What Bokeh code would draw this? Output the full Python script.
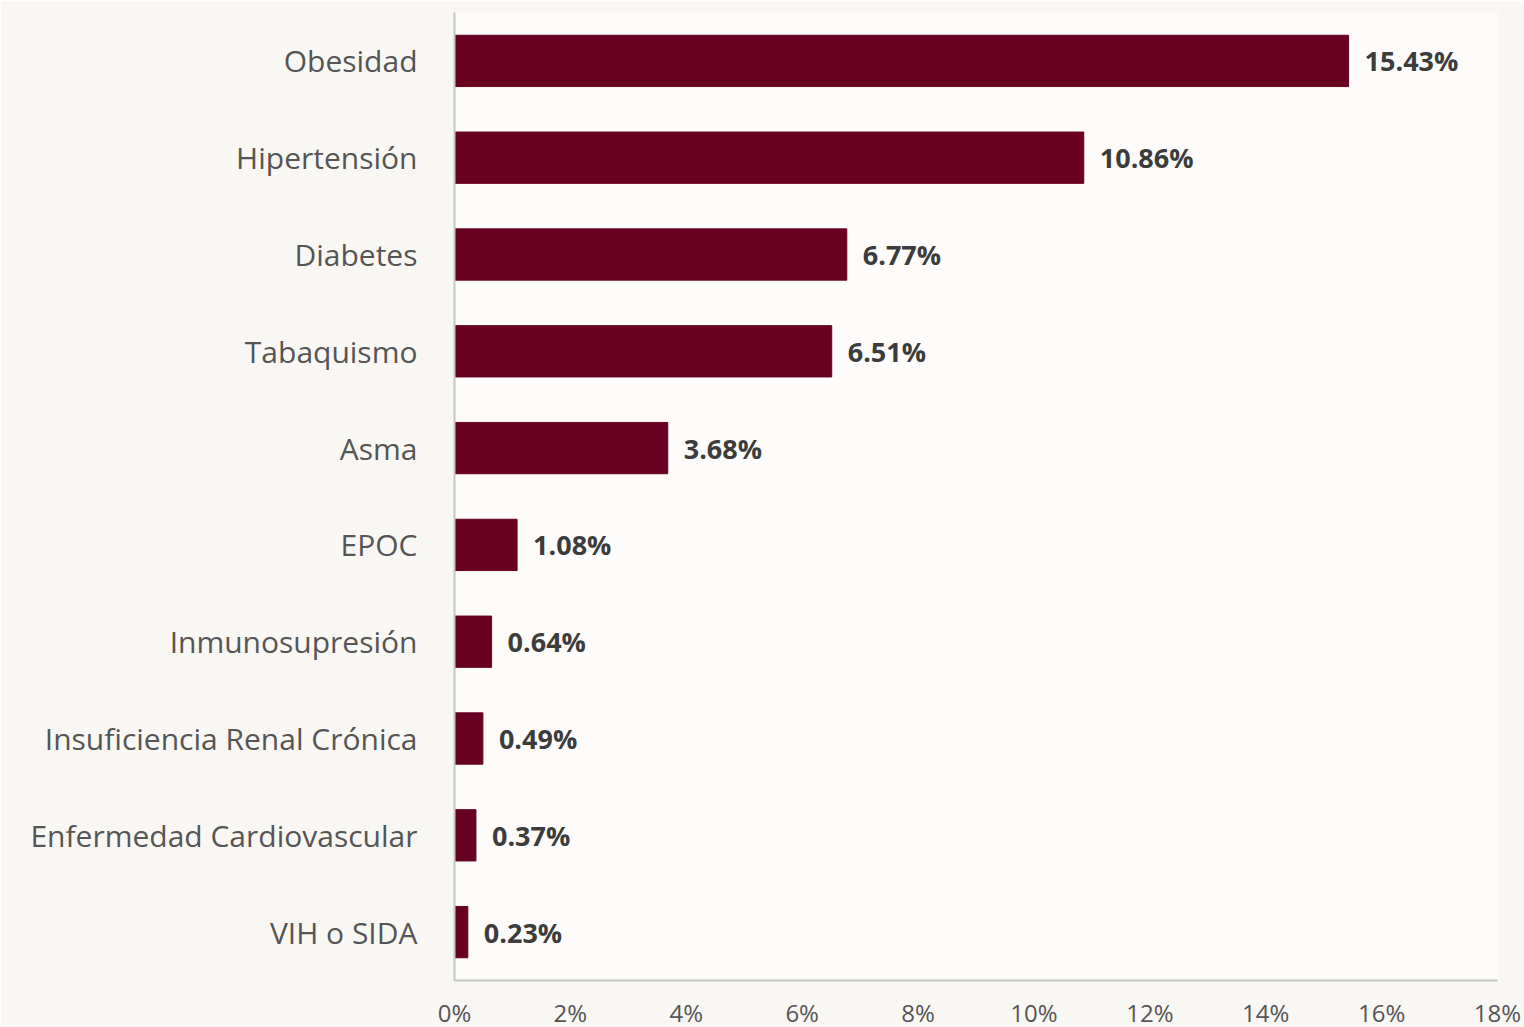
from bokeh.plotting import figure
from bokeh.models import ColumnDataSource, FixedTicker, PrintfTickFormatter, Range1d
from bokeh.core.properties import value
from bokeh.embed import file_html
from bokeh.resources import INLINE

categories = ["Obesidad", "Hipertensión", "Diabetes", "Tabaquismo", "Asma", "EPOC",
              "Inmunosupresión", "Insuficiencia Renal Crónica",
              "Enfermedad Cardiovascular", "VIH o SIDA"]
values = [15.43, 10.86, 6.77, 6.51, 3.68, 1.08, 0.64, 0.49, 0.37, 0.23]
labels = ["15.43%", "10.86%", "6.77%", "6.51%", "3.68%", "1.08%", "0.64%", "0.49%", "0.37%", "0.23%"]
x_ticks = [0, 2, 4, 6, 8, 10, 12, 14, 16, 18]

src = ColumnDataSource(dict(cat=categories, val=values, lab=labels))

p = figure(y_range=list(reversed(categories)), x_range=Range1d(0, 18),
           frame_width=1043, frame_height=968, output_backend="svg", toolbar_location=None,
           min_border_left=454, min_border_right=27, min_border_top=12, min_border_bottom=47)

p.hbar(y="cat", right="val", left=0, height=0.53, source=src, color="#680022")
p.text(x="val", y="cat", text="lab", source=src, x_offset=16, text_baseline="middle",
       text_font=value("Open Sans"), text_font_style="bold", text_font_size="27px",
       text_color="#3c3c3c")

p.xgrid.visible = False
p.ygrid.visible = False
p.outline_line_color = None
p.background_fill_color = "#FDFCFB"
p.border_fill_color = "#F9F7F3"

p.xaxis.ticker = FixedTicker(ticks=x_ticks)
p.xaxis.formatter = PrintfTickFormatter(format="%d%%")
for ax in (p.xaxis[0], p.yaxis[0]):
    ax.axis_line_color = "#c6c6c6"
    ax.axis_line_width = 2
    ax.major_tick_line_color = None
    ax.minor_tick_line_color = None
    ax.major_label_text_font = "Open Sans"
    ax.major_label_text_color = "#555555"
p.xaxis.major_label_text_font_size = "24px"
p.xaxis.major_label_standoff = 9
p.yaxis.major_label_text_font_size = "30px"
p.yaxis.major_label_standoff = 31

open("out.html", "w").write(file_html(p, INLINE))
